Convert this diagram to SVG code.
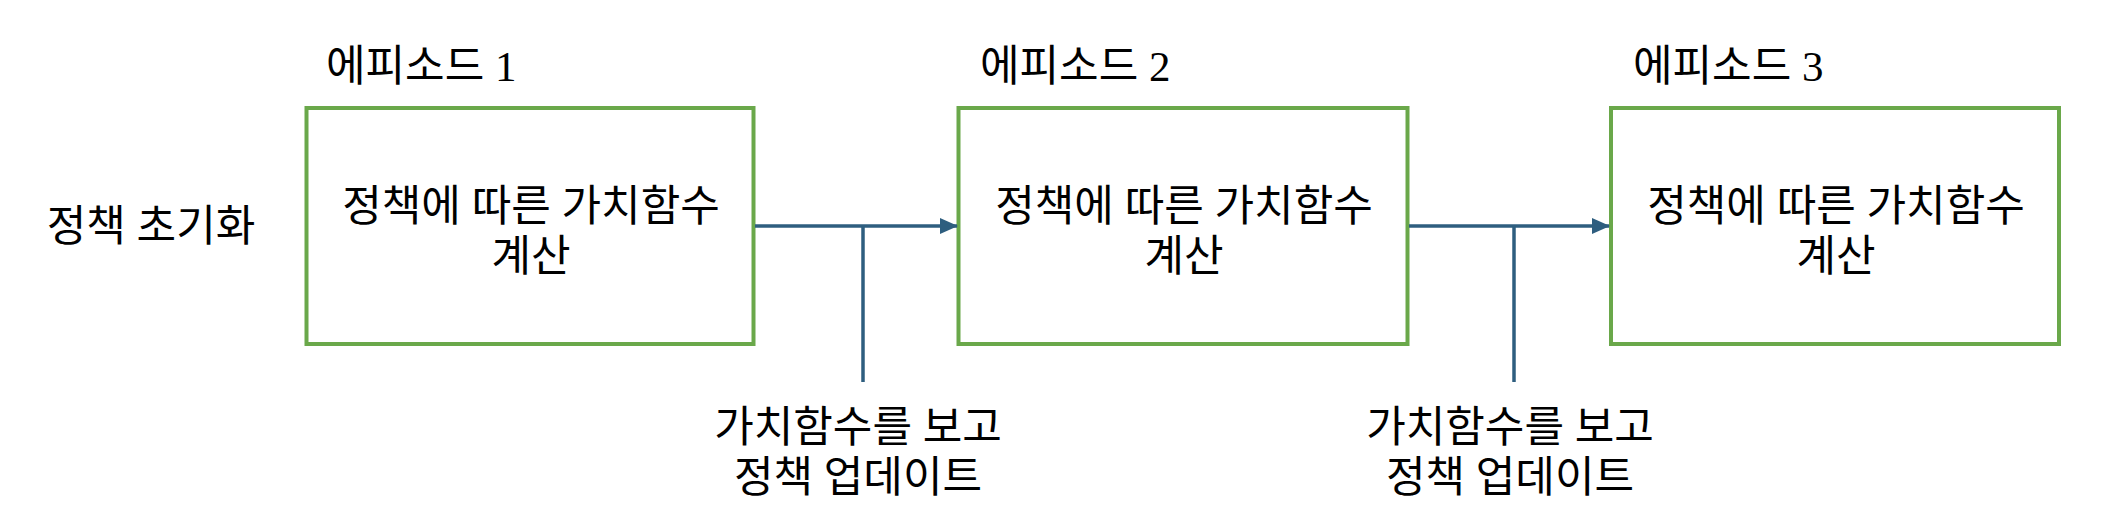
<svg xmlns="http://www.w3.org/2000/svg" width="2106" height="524" viewBox="0 0 2106 524">
<style>
  .box { fill: #ffffff; stroke: #6AA84A; stroke-width: 4; }
  .lbl { font-family: 'Liberation Serif', 'Noto Sans CJK KR', serif; font-size: 43px; fill: #000000; }
  .mid { text-anchor: middle; }
  .conn { fill: none; stroke: #2E5E7F; stroke-width: 3.5; }
</style>
<defs>
  <marker id="arrow" markerUnits="userSpaceOnUse" markerWidth="18" markerHeight="16" viewBox="0 0 18 16" refX="17" refY="8" orient="auto">
    <path d="M0,0 L18,8 L0,16 Z" fill="#2E5E7F"/>
  </marker>
</defs>
<rect width="2106" height="524" fill="#ffffff"/>

<g id="init">
  <text class="lbl mid" x="151" y="241">정책 초기화</text>
</g>

<g id="episode1">
  <text class="lbl" x="326" y="81">에피소드 1</text>
  <rect class="box" x="306.5" y="108" width="447" height="236"/>
  <text class="lbl mid" x="531" y="221">정책에 따른 가치함수</text>
  <text class="lbl mid" x="531" y="271">계산</text>
</g>

<g id="episode2">
  <text class="lbl" x="980" y="81">에피소드 2</text>
  <rect class="box" x="958.5" y="108" width="449" height="236"/>
  <text class="lbl mid" x="1184" y="221">정책에 따른 가치함수</text>
  <text class="lbl mid" x="1184" y="271">계산</text>
</g>

<g id="episode3">
  <text class="lbl" x="1633" y="81">에피소드 3</text>
  <rect class="box" x="1611" y="108" width="448" height="236"/>
  <text class="lbl mid" x="1836" y="221">정책에 따른 가치함수</text>
  <text class="lbl mid" x="1836" y="271">계산</text>
</g>

<g id="update1">
  <text class="lbl mid" x="858" y="442">가치함수를 보고</text>
  <text class="lbl mid" x="858" y="492">정책 업데이트</text>
</g>

<g id="update2">
  <text class="lbl mid" x="1510" y="442">가치함수를 보고</text>
  <text class="lbl mid" x="1510" y="492">정책 업데이트</text>
</g>

<g id="connectors">
  <line class="conn" x1="755" y1="226" x2="957" y2="226" marker-end="url(#arrow)"/>
  <line class="conn" x1="863" y1="226" x2="863" y2="382"/>
  <line class="conn" x1="1409" y1="226" x2="1609" y2="226" marker-end="url(#arrow)"/>
  <line class="conn" x1="1514" y1="226" x2="1514" y2="382"/>
</g>
</svg>
